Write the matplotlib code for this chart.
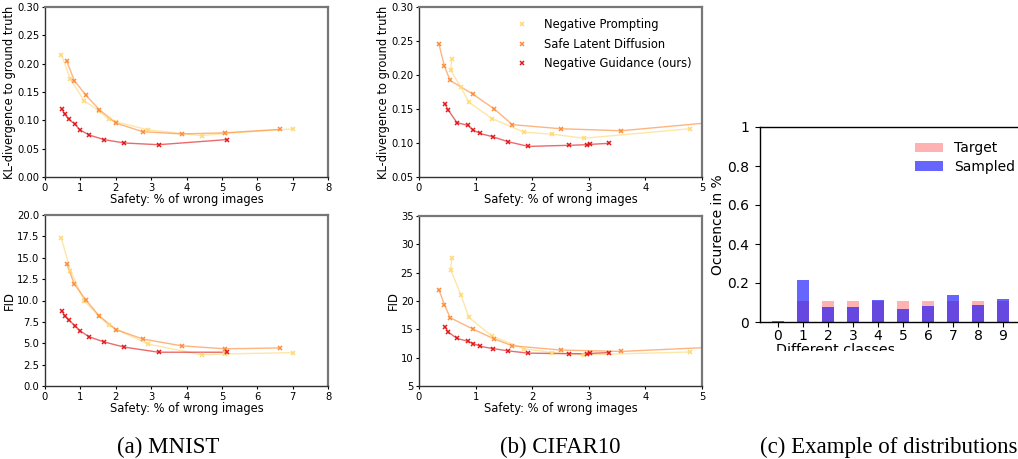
import matplotlib
matplotlib.use("Agg")
import matplotlib.pyplot as plt
from matplotlib.lines import Line2D
from matplotlib.transforms import Bbox
import numpy as np

# ---------------- data ----------------
# MNIST
mn_np_x = [0.46, 0.72, 1.10, 1.52, 1.80, 2.02, 2.92, 4.43, 5.10, 7.02]
mn_np_kl = [0.216, 0.173, 0.135, 0.117, 0.102, 0.097, 0.083, 0.073, 0.077, 0.085]
mn_np_fid = [17.3, 13.5, 10.0, 8.2, 7.1, 6.6, 4.9, 3.65, 3.75, 3.9]

mn_sld_x = [0.61, 0.83, 1.15, 1.53, 2.01, 2.76, 3.86, 5.10, 6.64]
mn_sld_kl = [0.205, 0.170, 0.145, 0.119, 0.095, 0.080, 0.076, 0.078, 0.084]
mn_sld_fid = [14.3, 11.9, 10.1, 8.2, 6.6, 5.5, 4.7, 4.35, 4.45]

mn_ng_x = [0.47, 0.56, 0.67, 0.85, 0.99, 1.25, 1.67, 2.24, 3.21, 5.14]
mn_ng_kl = [0.120, 0.111, 0.102, 0.093, 0.083, 0.074, 0.066, 0.060, 0.057, 0.066]
mn_ng_fid = [8.8, 8.2, 7.7, 7.05, 6.45, 5.75, 5.15, 4.55, 3.95, 3.95]

# CIFAR10
cf_np_x = [0.58, 0.56, 0.74, 0.88, 1.29, 1.85, 2.35, 2.91, 4.79]
cf_np_kl = [0.223, 0.207, 0.182, 0.160, 0.136, 0.116, 0.113, 0.107, 0.121]
cf_np_fid = [27.6, 25.5, 21.1, 17.1, 13.8, 11.6, 10.9, 10.5, 11.0]

cf_sld_x = [0.35, 0.45, 0.55, 0.95, 1.33, 1.65, 2.50, 3.57, 6.20]
cf_sld_kl = [0.246, 0.213, 0.192, 0.172, 0.150, 0.127, 0.121, 0.118, 0.138]
cf_sld_fid = [22.0, 19.35, 17.05, 15.06, 13.3, 12.1, 11.35, 11.1, 12.3]

cf_ng_x = [0.46, 0.52, 0.67, 0.86, 0.96, 1.08, 1.31, 1.57, 1.93, 2.65, 2.97, 3.03, 3.35]
cf_ng_kl = [0.157, 0.148, 0.130, 0.126, 0.119, 0.114, 0.109, 0.102, 0.095, 0.0966, 0.0975, 0.098, 0.0995]
cf_ng_fid = [15.4, 14.5, 13.4, 12.9, 12.5, 12.0, 11.6, 11.2, 10.8, 10.7, 10.7, 10.75, 10.9]

# Distribution example
classes = [0, 1, 2, 3, 4, 5, 6, 7, 8, 9]
target = [0.0, 0.109, 0.109, 0.109, 0.109, 0.109, 0.109, 0.109, 0.109, 0.109]
sampled = [0.007, 0.217, 0.079, 0.079, 0.115, 0.068, 0.084, 0.140, 0.089, 0.120]

labels = ["Negative Prompting", "Safe Latent Diffusion", "Negative Guidance (ours)"]
colors = ["#fed976", "#fd8d3c", "#e31a1c"]

# ---------------- figure ----------------
W, H = 1018, 459
fig = plt.figure(figsize=(W / 100, H / 100), dpi=100)


def ax_at(l, t, r, b):
    return fig.add_axes([l / W, 1 - b / H, (r - l) / W, (b - t) / H])


def style(ax):
    for s in ["top", "right"]:
        ax.spines[s].set_color("#777777")
        ax.spines[s].set_linewidth(1.6)
    for s in ["left", "bottom"]:
        ax.spines[s].set_color("#333333")
        ax.spines[s].set_linewidth(1.0)
    ax.tick_params(labelsize=7.2, length=2.5, width=0.8, pad=1.5)


def curves(ax, xs, ys):
    for x, y, c in zip(xs, ys, colors):
        ax.plot(x, y, color=c, lw=1.0, alpha=0.65, zorder=2)
        ax.plot(x, y, ls="none", marker="x", ms=3.5, mew=1.1, color=c, zorder=3)


lab_fs = 8.3

ax1 = ax_at(45, 7, 328, 177)
curves(ax1, [mn_np_x, mn_sld_x, mn_ng_x], [mn_np_kl, mn_sld_kl, mn_ng_kl])
ax1.set_xlim(0, 8)
ax1.set_ylim(0, 0.30)
ax1.set_yticks(np.arange(0, 0.31, 0.05))
ax1.set_xlabel("Safety: % of wrong images", fontsize=lab_fs, labelpad=0.5)
ax1.set_ylabel("KL-divergence to ground truth", fontsize=lab_fs, labelpad=0.5)
style(ax1)

ax2 = ax_at(45, 215, 328, 386)
curves(ax2, [mn_np_x, mn_sld_x, mn_ng_x], [mn_np_fid, mn_sld_fid, mn_ng_fid])
ax2.set_xlim(0, 8)
ax2.set_ylim(0, 20)
ax2.set_yticks(np.arange(0, 20.1, 2.5))
ax2.set_xlabel("Safety: % of wrong images", fontsize=lab_fs, labelpad=0.5)
ax2.set_ylabel("FID", fontsize=lab_fs, labelpad=0.5)
style(ax2)

ax3 = ax_at(419, 7, 702, 177)
curves(ax3, [cf_np_x, cf_sld_x, cf_ng_x], [cf_np_kl, cf_sld_kl, cf_ng_kl])
ax3.set_xlim(0, 5)
ax3.set_ylim(0.05, 0.30)
ax3.set_yticks(np.arange(0.05, 0.301, 0.05))
ax3.set_xlabel("Safety: % of wrong images", fontsize=lab_fs, labelpad=0.5)
ax3.set_ylabel("KL-divergence to ground truth", fontsize=lab_fs, labelpad=0.5)
style(ax3)
handles = [Line2D([], [], ls="none", marker="x", ms=3.5, mew=1.1, color=c) for c in colors]
ax3.legend(handles, labels, loc="upper right", frameon=False, fontsize=8.3,
           handlelength=1.0, handletextpad=1.4, labelspacing=0.55,
           bbox_to_anchor=(1.0, 0.995))

ax4 = ax_at(419, 216, 702, 386)
curves(ax4, [cf_np_x, cf_sld_x, cf_ng_x], [cf_np_fid, cf_sld_fid, cf_ng_fid])
ax4.set_xlim(0, 5)
ax4.set_ylim(5, 35)
ax4.set_yticks(np.arange(5, 36, 5))
ax4.set_xlabel("Safety: % of wrong images", fontsize=lab_fs, labelpad=0.5)
ax4.set_ylabel("FID", fontsize=lab_fs, labelpad=0.5)
style(ax4)

# Bar chart (cropped at the right edge in the reference)
ax5 = ax_at(760, 127, 1021, 322)
ax5.bar(classes, target, width=0.5, color="red", alpha=0.3, label="Target")
ax5.bar(classes, sampled, width=0.5, color="blue", alpha=0.6, label="Sampled")
ax5.set_xlim(-0.72, 9.72)
ax5.set_ylim(0, 1)
ax5.set_xticks(classes)
ax5.set_yticks([0, 0.2, 0.4, 0.6, 0.8, 1.0])
ax5.set_yticklabels(["0", "0.2", "0.4", "0.6", "0.8", "1"])
ax5.tick_params(labelsize=10, length=3.5, width=0.8)
ax5.tick_params(axis="y", pad=4.5)
ax5.tick_params(axis="x", pad=1.5)
for s in ax5.spines.values():
    s.set_linewidth(1.0)
ax5.set_ylabel("Ocurence in %", fontsize=10, labelpad=1)
ax5.legend(loc="upper right", frameon=False, fontsize=10,
           handlelength=2.0, handleheight=0.7, handletextpad=0.8,
           labelspacing=0.3, bbox_to_anchor=(1.025, 0.99))

# x label of the bar chart, clipped as in the reference
xl = fig.text(836 / W, 1 - 343 / H, "Different classes", fontsize=10.3,
              ha="center", va="top")
clip = Bbox.from_extents(0, H - 351, W, H)
xl.set_clip_box(clip)
xl.set_clip_on(True)

# captions
cap_fs = 16.5
fig.text(168 / W, 1 - 447 / H, "(a) MNIST", fontsize=cap_fs, family="Liberation Serif",
         ha="center", va="center")
fig.text(560 / W, 1 - 447 / H, "(b) CIFAR10", fontsize=cap_fs, family="Liberation Serif",
         ha="center", va="center")
fig.text(760 / W, 1 - 447 / H, "(c) Example of distributions", fontsize=cap_fs,
         family="Liberation Serif", ha="left", va="center")

fig.savefig("out.png", dpi=100)
